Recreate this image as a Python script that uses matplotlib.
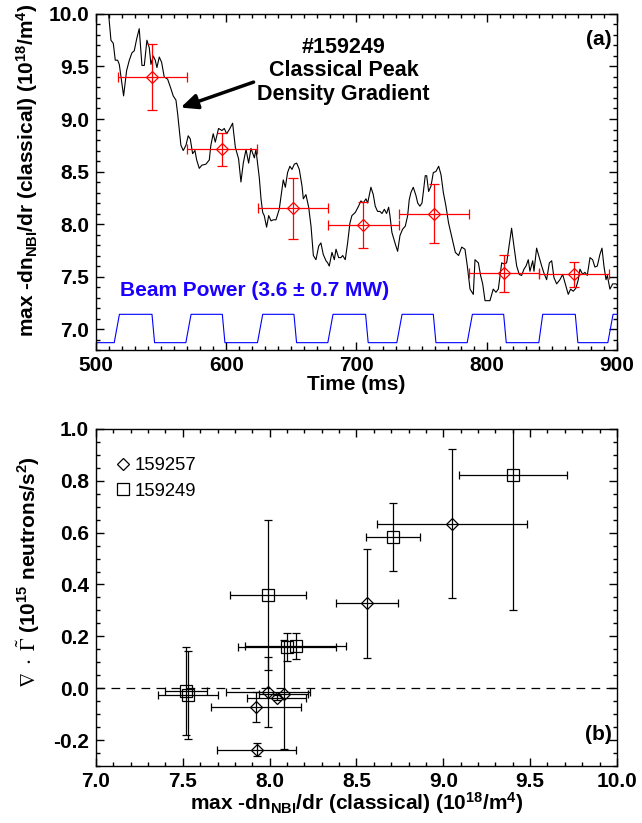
from matplotlib import pyplot as plt
from matplotlib.ticker import MultipleLocator, FormatStrFormatter
from matplotlib.lines import Line2D
import numpy as np

plt.rcParams['font.family'] = ['Liberation Sans', 'DejaVu Sans']
plt.rcParams['mathtext.fontset'] = 'stix'
plt.rcParams['mathtext.default'] = 'regular'

##### Panel (a) data : peak density gradient trace, shot 159249
trace_t = [505, 509.7, 511.5, 513.3, 514.8, 516.6, 517.9, 519.2, 521.2, 523.5, 525.6, 527.6, 529.4,
           531.2, 533.2, 535.3, 537.1, 539.1, 540.9, 542.2, 544, 545.5, 546.8, 548.6, 550.4, 552.4,
           555, 557.5, 559.3, 561.4, 562.7, 564, 565.2, 567, 569.1, 570.8, 572.4, 574.2, 576, 577.3,
           579.3, 581.3, 584.4, 587, 588.2, 590, 591.6, 594.1, 596.7, 598.5, 600.3, 602.4, 604.9,
           607, 609.5, 611.3, 613.1, 615.2, 617.2, 619, 621.6, 622.8, 625.4, 626.7, 628, 629.2, 631,
           632.6, 634.4, 636.1, 638.2, 640.7, 642.8, 643.8, 645.4, 647.1, 648.9, 650.5, 652.3, 654.1,
           656.1, 658.2, 659.2, 661.2, 663.3, 665.1, 666.9, 668.9, 671, 672.7, 674.5, 676.6, 677.9,
           679.1, 681.2, 683, 684.3, 686.3, 688.1, 689.4, 691.4, 693.2, 695, 696.5, 699.1, 701.6,
           703.4, 705.2, 707.3, 708.6, 711.1, 712.9, 714.4, 716.2, 718, 719.6, 721.4, 723.1, 724.7,
           725.7, 727.2, 729.8, 731.6, 733.4, 735.4, 737.5, 739.3, 740.5, 741.8, 743.6, 745.7, 747,
           748.7, 750.3, 751.3, 752.8, 753.9, 755.4, 757.2, 759, 761, 763.1, 764.9, 766.7, 768.7,
           770.7, 773.3, 775.9, 778.4, 780.8, 783.3, 785.1, 787.2, 789.7, 791, 793.6, 795.3, 796.9,
           798.7, 802.5, 805, 807.1, 808.9, 811.5, 813.3, 815.3, 817.4, 819.1, 820.9, 823, 825,
           826.8, 828.6, 830.2, 831.9, 833.2, 835.3, 836.3, 838.3, 840.4, 842.2, 844, 846, 848.1,
           849.9, 851.6, 853.7, 856.2, 858.3, 860.1, 862.6, 864.4, 866.5, 868.5, 870.3, 871.6, 873.7,
           875.4, 877.2, 879.3, 881.3, 883.1, 884.9, 886.9, 888.5, 890, 891.6, 892.6, 894.6, 896.7,
           899.2, 900]
trace_v = [10.25, 10.0, 9.75, 9.72, 9.56, 9.56, 9.52, 9.40, 9.22, 9.46, 9.56, 9.63, 9.65,
           9.76, 9.86, 9.51, 9.51, 9.75, 9.68, 9.52, 9.60, 9.56, 9.49, 9.59, 9.54, 9.40,
           9.38, 9.29, 9.22, 9.18, 9.05, 8.89, 8.75, 8.70, 8.75, 8.84, 8.81, 8.67, 8.70, 8.61,
           8.53, 8.56, 8.57, 8.61, 8.75, 8.86, 8.78, 8.91, 8.89, 8.91, 8.86, 8.90, 8.96,
           8.73, 8.62, 8.40, 8.58, 8.71, 8.58, 8.72, 8.63, 8.71, 8.44, 8.24, 8.11, 8.08, 7.97,
           8.08, 8.03, 8.04, 8.04, 8.14, 8.33, 8.42, 8.35, 8.49, 8.55, 8.52, 8.57, 8.58,
           8.52, 8.36, 8.24, 8.28, 8.16, 7.98, 7.70, 7.66, 7.79, 7.82, 7.71, 7.65, 7.63,
           7.60, 7.73, 7.66, 7.76, 7.68, 7.68, 7.70, 7.66, 7.82, 8.01, 8.08, 8.11, 8.17,
           8.22, 8.20, 8.24, 8.20, 8.35, 8.28, 8.17, 8.12, 8.12, 8.10, 8.14, 8.10, 8.16,
           8.08, 7.92, 7.81, 7.74, 7.89, 7.95, 7.98, 8.08, 8.23, 8.30, 8.35, 8.27, 8.20,
           8.17, 8.20, 8.30, 8.46, 8.46, 8.31, 8.36, 8.49, 8.50, 8.55, 8.47, 8.30, 8.17,
           8.01, 7.87, 7.73, 7.70, 7.78, 7.76, 7.60, 7.38, 7.33, 7.66, 7.63, 7.51, 7.43,
           7.27, 7.27, 7.38, 7.35, 7.38, 7.63, 7.62, 7.63, 7.81, 7.96, 7.79, 7.60, 7.52,
           7.51, 7.57, 7.60, 7.66, 7.55, 7.65, 7.55, 7.77, 7.68, 7.60, 7.53, 7.47, 7.63,
           7.65, 7.49, 7.43, 7.47, 7.52, 7.44, 7.33, 7.38, 7.36, 7.39, 7.47, 7.57, 7.52,
           7.54, 7.51, 7.68, 7.66, 7.59, 7.60, 7.71, 7.77, 7.60, 7.47, 7.51, 7.38, 7.43,
           7.43, 7.42]

# time averaged windows (red)
win_t = [543.2, 596.6, 651.5, 705.3, 759.4, 813.2, 867.0]
win_terr = [26.6, 26.7, 26.9, 27.0, 27.1, 26.7, 27.1]
win_v = [9.40, 8.71, 8.15, 7.99, 8.10, 7.53, 7.52]
win_verr = [0.31, 0.155, 0.29, 0.22, 0.28, 0.175, 0.12]

# beam power waveform (corners)
beam_t = [500, 514, 518, 543, 545, 569, 573, 597, 599, 624, 628, 652, 654, 678, 682,
          707, 709, 731, 735, 759, 761, 785, 789, 813, 815, 840, 843, 868, 870, 893, 897, 900]
beam_v = [6.87, 6.87, 7.14, 7.14, 6.87, 6.87, 7.14, 7.14, 6.87, 6.87, 7.14, 7.14, 6.87, 6.87, 7.14,
          7.14, 6.87, 6.87, 7.14, 7.14, 6.87, 6.87, 7.14, 7.14, 6.87, 6.87, 7.14, 7.14, 6.87, 6.87, 7.14, 7.14]

##### Panel (b) data
# 159249 (squares)
sq_x = win_v
sq_xerr = win_verr
sq_y = [0.822, 0.583, 0.162, 0.36, 0.158, -0.027, -0.012]
sq_yerr = [0.52, 0.13, 0.05, 0.29, 0.055, 0.17, 0.17]
# 159257 (diamonds)
di_x = [7.99, 7.92, 8.04, 8.08, 7.925, 8.56, 9.05]
di_xerr = [0.24, 0.26, 0.17, 0.14, 0.227, 0.178, 0.43]
di_y = [-0.014, -0.073, -0.037, -0.023, -0.237, 0.328, 0.634]
di_yerr = [0.135, 0.058, 0.01, 0.21, 0.026, 0.21, 0.288]

fig = plt.figure(figsize=(6.42, 8.23), dpi=100)
ax1 = fig.add_axes([0.1495, 0.5747, 0.8115, 0.4083])
ax2 = fig.add_axes([0.1495, 0.0693, 0.8115, 0.4095])

fs = 15
fs_lab = 15

def style(ax):
    ax.tick_params(which='both', direction='in', top=True, right=True, labelsize=fs)
    ax.tick_params(axis='y', pad=5)
    ax.tick_params(axis='x', pad=4)
    ax.tick_params(which='major', length=6, width=1)
    ax.tick_params(which='minor', length=3, width=1)
    for lab in ax.get_xticklabels() + ax.get_yticklabels():
        lab.set_fontweight('bold')
    for s in ax.spines.values():
        s.set_linewidth(1)

# ---- (a)
ax1.plot(trace_t, trace_v, color='black', lw=0.8)
ax1.plot(beam_t, beam_v, color='blue', lw=0.8)
ax1.errorbar(win_t, win_v, xerr=win_terr, yerr=win_verr, fmt='D', mfc='none', mec='red',
             ms=6.5, mew=0.9, ecolor='red', elinewidth=0.9, capsize=3.5, capthick=0.9)
ax1.set_xlim(500, 900)
ax1.set_ylim(6.8, 10.0)
ax1.xaxis.set_major_locator(MultipleLocator(100))
ax1.xaxis.set_minor_locator(MultipleLocator(10))
ax1.yaxis.set_major_locator(MultipleLocator(0.5))
ax1.yaxis.set_minor_locator(MultipleLocator(0.1))
ax1.yaxis.set_major_formatter(FormatStrFormatter('%.1f'))
ax1.set_xlabel('Time (ms)', fontsize=fs, fontweight='bold', labelpad=0)
ax1.set_ylabel('max -dn$_{NBI}$/dr (classical) (10$^{18}$/m$^4$)', fontsize=fs_lab,
               fontweight='bold')
style(ax1)

ax1.text(690, 9.46, '#159249\nClassical Peak\nDensity Gradient', ha='center', va='center',
         fontsize=15.5, fontweight='bold', linespacing=1.15)
ax1.annotate('', xy=(563, 9.10), xytext=(623, 9.36),
             arrowprops=dict(arrowstyle='-|>,head_length=1.0,head_width=0.45', color='black', lw=2.5))
ax1.text(896, 9.76, '(a)', ha='right', va='center', fontsize=fs, fontweight='bold')
ax1.text(518.4, 7.37, 'Beam Power (3.6 \u00b1 0.7 MW)', ha='left', va='center', fontsize=fs,
         fontweight='bold', color='#1a00ff')

# ---- (b)
ax2.axhline(0, color='black', lw=0.9, ls=(0, (7, 5)))
ax2.errorbar(di_x, di_y, xerr=di_xerr, yerr=di_yerr, fmt='D', mfc='none', mec='black',
             ms=6, mew=0.9, ecolor='black', elinewidth=0.9, capsize=3, capthick=0.9)
ax2.errorbar(sq_x, sq_y, xerr=sq_xerr, yerr=sq_yerr, fmt='s', mfc='none', mec='black',
             ms=8, mew=0.9, ecolor='black', elinewidth=0.9, capsize=3, capthick=0.9)
ax2.set_xlim(7.0, 10.0)
ax2.set_ylim(-0.3, 1.0)
ax2.xaxis.set_major_locator(MultipleLocator(0.5))
ax2.xaxis.set_minor_locator(MultipleLocator(0.1))
ax2.yaxis.set_major_locator(MultipleLocator(0.2))
ax2.yaxis.set_minor_locator(MultipleLocator(0.05))
ax2.xaxis.set_major_formatter(FormatStrFormatter('%.1f'))
ax2.yaxis.set_major_formatter(FormatStrFormatter('%.1f'))
ax2.set_xlabel('max -dn$_{NBI}$/dr (classical) (10$^{18}$/m$^4$)', fontsize=fs,
               fontweight='bold', labelpad=0)
ax2.set_ylabel(r'$\mathrm{\nabla\ \cdot\ \tilde{\Gamma}}$ (10$^{15}$ neutrons/s$^2$)', fontsize=fs_lab,
               fontweight='bold')
style(ax2)
ax2.text(9.97, -0.178, '(b)', ha='right', va='center', fontsize=fs, fontweight='bold')

handles = [Line2D([], [], marker='D', ls='none', mfc='none', mec='black', ms=6, mew=0.9),
           Line2D([], [], marker='s', ls='none', mfc='none', mec='black', ms=8, mew=0.9)]
ax2.legend(handles, ['159257', '159249'], loc='upper left', bbox_to_anchor=(0.005, 0.965),
           frameon=False, fontsize=13.3, handlelength=0.8, handletextpad=0.25, labelspacing=0.45,
           borderaxespad=0.5)

ax1.yaxis.set_label_coords(-0.107, 0.536)
ax2.yaxis.set_label_coords(-0.104, 0.576)

plt.savefig('out.png', dpi=100)
